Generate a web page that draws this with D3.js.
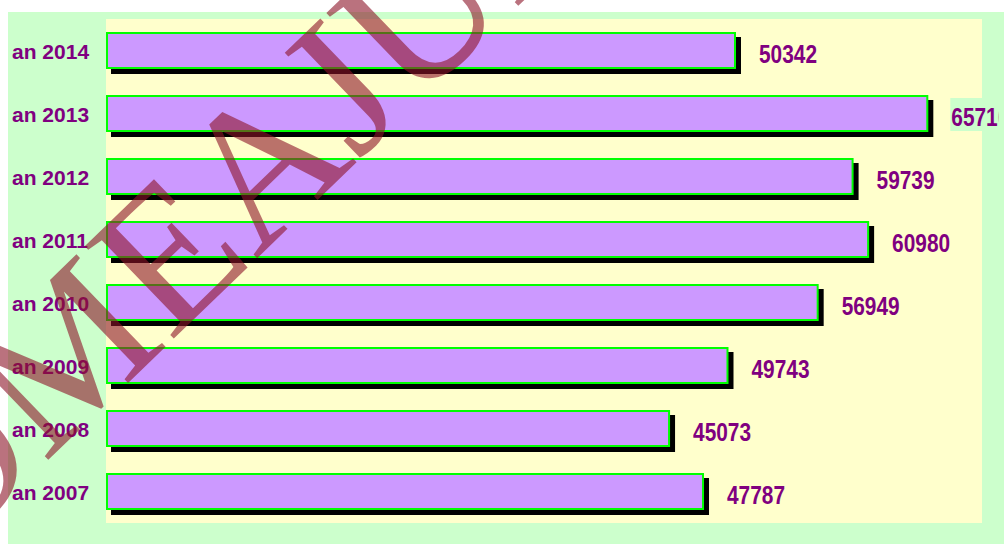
<!DOCTYPE html>
<html>
<head>
<meta charset="utf-8">
<script src="https://cdn.jsdelivr.net/npm/d3@7/dist/d3.min.js"></script>
<style>
  html, body { margin: 0; padding: 0; background: #ffffff; }
  svg { display: block; }
</style>
</head>
<body>
<svg id="chart" width="1004" height="544"></svg>
<script>
// ---- data ----
const categories = ["an 2014", "an 2013", "an 2012", "an 2011", "an 2010", "an 2009", "an 2008", "an 2007"];
const values = [50342, 65710, 59739, 60980, 56949, 49743, 45073, 47787];
const xDomain = [0, 70000];
const watermarkText = "OMEAJUD";

// ---- layout ----
const W = 1004, H = 544;
const chartArea = { x: 8, y: 12, w: W - 8, h: H - 12 };
const plot = { left: 106, right: 982, top: 19, bottom: 523 };

const svg = d3.select("#chart");

svg.append("defs").append("clipPath").attr("id", "labelClip")
  .append("rect").attr("x", 0).attr("y", 0).attr("width", 998.5).attr("height", H);

svg.append("rect")
  .attr("x", chartArea.x).attr("y", chartArea.y)
  .attr("width", chartArea.w).attr("height", chartArea.h)
  .attr("fill", "#ccffcc");

svg.append("rect")
  .attr("x", plot.left).attr("y", plot.top)
  .attr("width", plot.right - plot.left).attr("height", plot.bottom - plot.top)
  .attr("fill", "#ffffcc");

const x = d3.scaleLinear().domain(xDomain).range([plot.left, plot.right]);
const pi = 26 / 63;
const y = d3.scaleBand().domain(categories)
  .range([plot.top, plot.bottom])
  .paddingInner(pi).paddingOuter(pi / 2);

const data = categories.map((c, i) => ({ cat: c, val: values[i] }));
const bw = y.bandwidth();

// shadows
svg.append("g").selectAll("rect").data(data).join("rect")
  .attr("x", plot.left + 5)
  .attr("y", d => y(d.cat) + 5)
  .attr("width", d => x(d.val) - plot.left)
  .attr("height", bw)
  .attr("fill", "#000000");

// bars
svg.append("g").selectAll("rect").data(data).join("rect")
  .attr("x", plot.left + 1)
  .attr("y", d => y(d.cat) + 1)
  .attr("width", d => x(d.val) - plot.left - 2)
  .attr("height", bw - 2)
  .attr("fill", "#cc99ff")
  .attr("stroke", "#00ff00")
  .attr("stroke-width", 2);

// category labels
svg.append("g").selectAll("text").data(data).join("text")
  .attr("x", 12)
  .attr("y", d => y(d.cat) + bw / 2 + 8)
  .attr("font-family", "'Liberation Sans', Arial, sans-serif")
  .attr("font-weight", "bold")
  .attr("font-size", 21)
  .attr("fill", "#800080")
  .text(d => d.cat);

// value labels (condensed bold)
const vg = svg.append("g").attr("clip-path", "url(#labelClip)");
data.forEach(d => {
  const txt = String(d.val);
  const tx = x(d.val) + 23;
  const cy = y(d.cat) + bw / 2;
  const len = txt.length * 11.6;
  if (tx + len > plot.right) {
    vg.append("rect")
      .attr("x", tx - 1).attr("y", cy - 15.5)
      .attr("width", len + 4).attr("height", 33)
      .attr("fill", "#ccffcc");
  }
  vg.append("text")
    .attr("x", tx)
    .attr("y", cy + 12.8)
    .attr("font-family", "'Liberation Sans', Arial, sans-serif")
    .attr("font-weight", "bold")
    .attr("font-size", 25)
    .attr("textLength", len)
    .attr("lengthAdjust", "spacingAndGlyphs")
    .attr("fill", "#800080")
    .text(txt);
});

// watermark
svg.append("text")
  .attr("transform", "translate(-57.5,562) rotate(-44)")
  .attr("font-family", "'Liberation Serif', 'Times New Roman', serif")
  .attr("font-size", 196)
  .attr("fill", "rgb(140,20,40)")
  .attr("fill-opacity", 0.6)
  .text(watermarkText);
</script>
</body>
</html>
